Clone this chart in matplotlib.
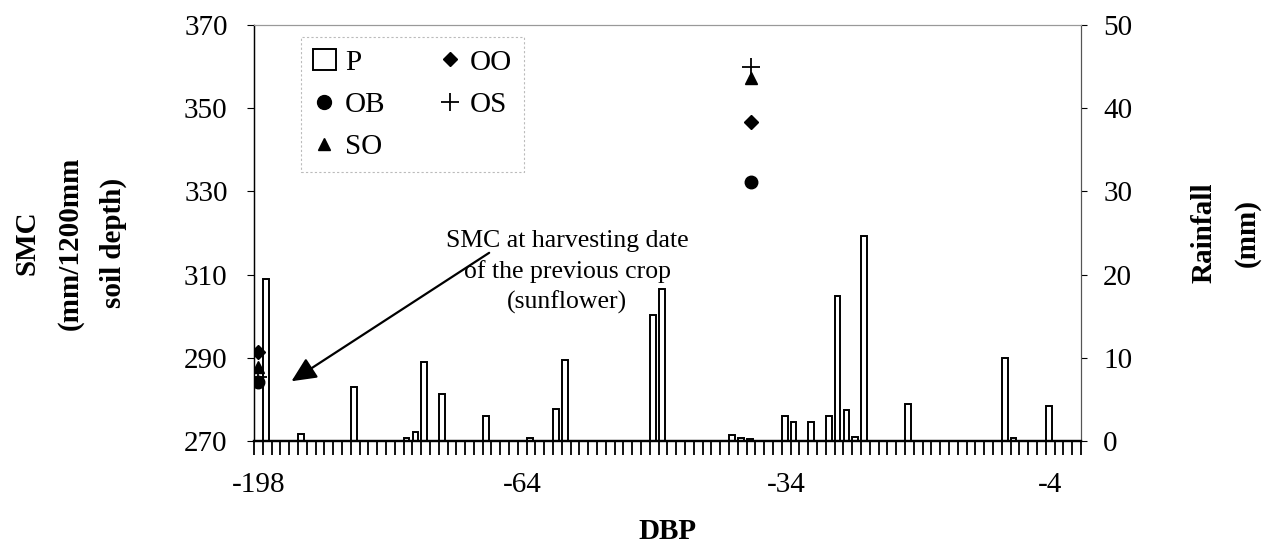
import matplotlib.pyplot as plt
from matplotlib.patches import Patch
from matplotlib.lines import Line2D

# category axis: one slot per recorded day, labels every 30 slots
n_days = 94
tick_pos = [0, 30, 60, 90]
tick_labels = ['-198', '-64', '-34', '-4']

# rainfall (mm) by day slot
rain_day = [1, 5, 11, 17, 18, 19, 21, 26, 31, 34, 35, 45, 46, 54, 55, 56,
            60, 61, 63, 65, 66, 67, 68, 69, 74, 85, 86, 90]
rain_mm = [19.5, 0.8, 6.5, 0.3, 1.1, 9.5, 5.7, 3.0, 0.4, 3.9, 9.7, 15.2, 18.3, 0.7, 0.4, 0.2,
           3.0, 2.3, 2.3, 3.0, 17.4, 3.7, 0.5, 24.6, 4.4, 10.0, 0.3, 4.2]

# soil moisture content (mm/1200mm) at the two sampling days
smc_day = [0, 56]
smc_ob = [284.1, 332.2]
smc_oo = [291.4, 346.6]
smc_os = [285.5, 359.8]
smc_so = [287.8, 357.3]

plt.rcParams['font.family'] = ['Liberation Serif', 'DejaVu Serif']

fig = plt.figure(figsize=(12.66, 5.52), dpi=100)
ax = fig.add_axes([0.2006, 0.2011, 0.6532, 0.7536])
ax2 = ax.twinx()

# rainfall bars on the right axis, kept behind the SMC markers
ax2.bar([d + 0.03 for d in rain_day], rain_mm, width=0.64, align='edge',
        facecolor='white', edgecolor='black', linewidth=1.4)
ax2.set_ylim(0, 50)
ax2.set_yticks(range(0, 51, 10))
ax2.tick_params(axis='y', labelsize=21, length=4, direction='out', pad=12)
ax2.set_ylabel('Rainfall\n(mm)', fontsize=21, fontweight='bold', labelpad=42,
               linespacing=1.75)

ax.set_zorder(ax2.get_zorder() + 1)
ax.patch.set_visible(False)

x_smc = [d + 0.5 for d in smc_day]
ax.plot(x_smc, smc_ob, 'o', color='black', markersize=9, linestyle='none')
ax.plot(x_smc, smc_oo, 'D', color='black', markersize=7, linestyle='none')
ax.plot(x_smc, smc_os, '+', color='black', markersize=13, markeredgewidth=1.3, linestyle='none')
ax.plot(x_smc, smc_so, '^', color='black', markersize=9, linestyle='none')

ax.set_xlim(0, n_days)
ax.set_ylim(270, 370)
ax.set_yticks(range(270, 371, 20))
ax.tick_params(axis='y', labelsize=21, length=5, direction='out', pad=14)
ax.set_ylabel('SMC\n(mm/1200mm\nsoil depth)', fontsize=21, fontweight='bold',
              linespacing=1.75)
ax.yaxis.set_label_coords(-0.154, 0.476)

ax.set_xticks(range(0, n_days + 1), minor=True)
ax.set_xticks([p + 0.5 for p in tick_pos])
ax.set_xticklabels(tick_labels)
ax.tick_params(axis='x', which='major', length=0, labelsize=21, pad=22)
ax.tick_params(axis='x', which='minor', length=10, width=1.3, direction='out')
ax.set_xlabel('DBP', fontsize=21, fontweight='bold', labelpad=15)

for a in (ax, ax2):
    a.spines['top'].set_color('#999999')
    a.spines['top'].set_linestyle((0, (1, 1)))
    a.spines['right'].set_color('#555555')
    a.spines['right'].set_linewidth(0.8)
    a.spines['left'].set_linewidth(0.9)
    a.spines['bottom'].set_linewidth(1.6)

# note pointing at the first sampling day
ax.annotate('', xy=(4.0, 284.0), xytext=(27.0, 315.6),
            arrowprops=dict(arrowstyle='-|>,head_length=1.5,head_width=0.7',
                            color='black', lw=1.6))
ax.text(35.6, 310.6, 'SMC at harvesting date\nof the previous crop\n(sunflower)',
        ha='center', va='center', fontsize=18.5, linespacing=1.45)

handles = [
    Patch(facecolor='white', edgecolor='black', linewidth=1.4),
    Line2D([], [], marker='o', color='black', markersize=10, linestyle='none'),
    Line2D([], [], marker='^', color='black', markersize=9, linestyle='none'),
    Line2D([], [], marker='D', color='black', markersize=7, linestyle='none'),
    Line2D([], [], marker='+', color='black', markersize=13, markeredgewidth=1.3, linestyle='none'),
]
leg = ax.legend(handles, ['P', 'OB', 'SO', 'OO', 'OS'], ncol=2, fontsize=21,
                loc='upper left', bbox_to_anchor=(0.057, 0.97), borderaxespad=0,
                frameon=True, fancybox=False, handlelength=0.8, handletextpad=0.3,
                columnspacing=1.8, labelspacing=0.55, borderpad=0.4)
leg.get_frame().set_edgecolor('#aaaaaa')
leg.get_frame().set_linestyle((0, (2, 2)))
leg.get_frame().set_linewidth(0.8)

fig.savefig('out.png', dpi=100)
